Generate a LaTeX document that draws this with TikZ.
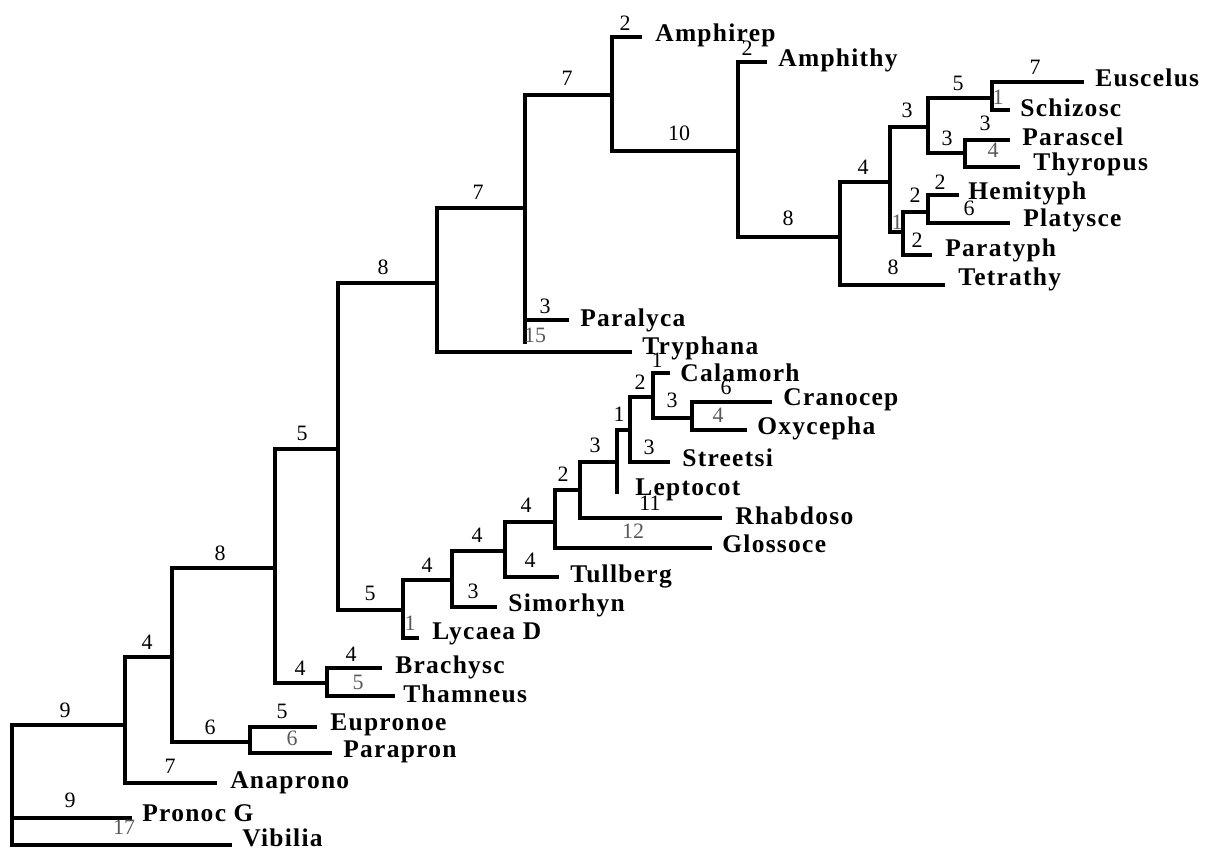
\documentclass[tikz,border=0pt]{standalone}
\usepackage{fontspec}
\setmainfont{Liberation Serif}
\newfontfamily\taxfont[LetterSpace=5]{Liberation Serif}
\begin{document}
\begin{tikzpicture}[x=0.02cm,y=-0.02cm,
  br/.style={line width=1.9pt,line cap=rect},
  tax/.style={anchor=west,inner sep=0pt,font=\taxfont\bfseries\fontsize{14.5}{16}\selectfont},
  lab/.style={inner sep=0pt,font=\fontsize{12.5}{14}\selectfont},
  glab/.style={lab,text=black!65}]
\useasboundingbox (0,0) rectangle (1209,850);
% internal nodes
\coordinate (n0) at (12,785);
\coordinate (n1) at (125,725);
\coordinate (n2) at (172,657);
\coordinate (n3) at (275,568);
\coordinate (n4) at (250,742);
\coordinate (n5) at (338,449);
\coordinate (n6) at (327,683);
\coordinate (n7) at (437,283);
\coordinate (n8) at (403,610);
\coordinate (n9) at (452,580);
\coordinate (n10) at (505,551);
\coordinate (n11) at (555,522);
\coordinate (n12) at (580,490);
\coordinate (n13) at (617,462);
\coordinate (n14) at (630,430);
\coordinate (n15) at (653,397);
\coordinate (n16) at (692,418);
\coordinate (n17) at (525,208);
\coordinate (n18) at (612,95);
\coordinate (n19) at (738,151);
\coordinate (n20) at (840,237);
\coordinate (n21) at (890,182);
\coordinate (n22) at (928,127);
\coordinate (n23) at (903,232);
\coordinate (n24) at (928,212);
\coordinate (n25) at (992,98);
\coordinate (n26) at (965,153);
\coordinate (q0) at (525,342);
% leaves
\coordinate (Pronoc) at (130,818);
\coordinate (Vibilia) at (230,845);
\coordinate (Anaprono) at (215,783);
\coordinate (Eupronoe) at (315,727);
\coordinate (Parapron) at (330,753);
\coordinate (Brachysc) at (380,668);
\coordinate (Thamneus) at (393,696);
\coordinate (Lycaea) at (417,638);
\coordinate (Simorhyn) at (495,607);
\coordinate (Tullberg) at (557,577);
\coordinate (Glossoce) at (710,548);
\coordinate (Rhabdoso) at (720,518);
\coordinate (Leptocot) at (617,492);
\coordinate (Streetsi) at (668,462);
\coordinate (Calamorh) at (668,373);
\coordinate (Cranocep) at (770,402);
\coordinate (Oxycepha) at (745,430);
\coordinate (Tryphana) at (630,352);
\coordinate (Paralyca) at (567,320);
\coordinate (Amphirep) at (640,37);
\coordinate (Amphithy) at (765,62);
\coordinate (Tetrathy) at (943,285);
\coordinate (Paratyph) at (930,255);
\coordinate (Hemityph) at (957,195);
\coordinate (Platysce) at (1008,223);
\coordinate (Euscelus) at (1082,82);
\coordinate (Schizosc) at (1008,110);
\coordinate (Parascel) at (1008,140);
\coordinate (Thyropus) at (1018,167);
% branches
\draw[br] (n0) |- (n1);
\draw[br] (n0) |- (Pronoc);
\draw[br] (n0) |- (Vibilia);
\draw[br] (n1) |- (n2);
\draw[br] (n1) |- (Anaprono);
\draw[br] (n2) |- (n3);
\draw[br] (n2) |- (n4);
\draw[br] (n4) |- (Eupronoe);
\draw[br] (n4) |- (Parapron);
\draw[br] (n3) |- (n5);
\draw[br] (n3) |- (n6);
\draw[br] (n6) |- (Brachysc);
\draw[br] (n6) |- (Thamneus);
\draw[br] (n5) |- (n7);
\draw[br] (n5) |- (n8);
\draw[br] (n8) |- (n9);
\draw[br] (n8) |- (Lycaea);
\draw[br] (n9) |- (n10);
\draw[br] (n9) |- (Simorhyn);
\draw[br] (n10) |- (n11);
\draw[br] (n10) |- (Tullberg);
\draw[br] (n11) |- (n12);
\draw[br] (n11) |- (Glossoce);
\draw[br] (n12) |- (n13);
\draw[br] (n12) |- (Rhabdoso);
\draw[br] (n13) |- (n14);
\draw[br] (n13) |- (Leptocot);
\draw[br] (n14) |- (n15);
\draw[br] (n14) |- (Streetsi);
\draw[br] (n15) |- (Calamorh);
\draw[br] (n15) |- (n16);
\draw[br] (n16) |- (Cranocep);
\draw[br] (n16) |- (Oxycepha);
\draw[br] (n7) |- (n17);
\draw[br] (n7) |- (Tryphana);
\draw[br] (n17) |- (n18);
\draw[br] (n17) |- (Paralyca);
\draw[br] (n17) |- (q0);
\draw[br] (n18) |- (Amphirep);
\draw[br] (n18) |- (n19);
\draw[br] (n19) |- (Amphithy);
\draw[br] (n19) |- (n20);
\draw[br] (n20) |- (n21);
\draw[br] (n20) |- (Tetrathy);
\draw[br] (n21) |- (n22);
\draw[br] (n21) |- (n23);
\draw[br] (n23) |- (n24);
\draw[br] (n23) |- (Paratyph);
\draw[br] (n24) |- (Hemityph);
\draw[br] (n24) |- (Platysce);
\draw[br] (n22) |- (n25);
\draw[br] (n22) |- (n26);
\draw[br] (n25) |- (Euscelus);
\draw[br] (n25) |- (Schizosc);
\draw[br] (n26) |- (Parascel);
\draw[br] (n26) |- (Thyropus);
% taxon names
\node[tax] (tEuscelus) at (1095,78) {Euscelus};
\node[tax] (tSchizosc) at (1020,108) {Schizosc};
\node[tax] (tParascel) at (1022,137) {Parascel};
\node[tax] (tThyropus) at (1033,164) {Thyropus};
\node[tax] (tHemityph) at (968,193) {Hemityph};
\node[tax] (tPlatysce) at (1023,220) {Platysce};
\node[tax] (tParatyph) at (945,250) {Paratyph};
\node[tax] (tTetrathy) at (958,279) {Tetrathy};
\node[tax] (tAmphithy) at (778,60) {Amphithy};
\node[tax] (tAmphirep) at (655,35) {Amphirep};
\node[tax] (tParalyca) at (580,320) {Paralyca};
\node[tax] (tTryphana) at (642,348) {Tryphana};
\node[tax] (tCalamorh) at (680,373) {Calamorh};
\node[tax] (tCranocep) at (783,400) {Cranocep};
\node[tax] (tOxycepha) at (757,428) {Oxycepha};
\node[tax] (tStreetsi) at (682,458) {Streetsi};
\node[tax] (tLeptocot) at (635,490) {Leptocot};
\node[tax] (tRhabdoso) at (735,516) {Rhabdoso};
\node[tax] (tGlossoce) at (722,544) {Glossoce};
\node[tax] (tTullberg) at (570,576) {Tullberg};
\node[tax] (tSimorhyn) at (508,605) {Simorhyn};
\node[tax] (tLycaea) at (432,634) {Lycaea D};
\node[tax] (tBrachysc) at (395,667) {Brachysc};
\node[tax] (tThamneus) at (403,694) {Thamneus};
\node[tax] (tEupronoe) at (330,725) {Eupronoe};
\node[tax] (tParapron) at (343,752) {Parapron};
\node[tax] (tAnaprono) at (230,783) {Anaprono};
\node[tax] (tPronoc) at (142,813) {Pronoc G};
\node[tax] (tVibilia) at (242,838) {Vibilia};
% branch lengths
\node[lab] (l1) at (65,710) {9};
\node[lab] (l2) at (70,800) {9};
\node[glab] (l3) at (124,827) {17};
\node[lab] (l4) at (147,642) {4};
\node[lab] (l5) at (170,766) {7};
\node[lab] (l6) at (220,553) {8};
\node[lab] (l7) at (210,727) {6};
\node[lab] (l8) at (282,711) {5};
\node[glab] (l9) at (292,738) {6};
\node[lab] (l10) at (302,433) {5};
\node[lab] (l11) at (300,668) {4};
\node[lab] (l12) at (351,654) {4};
\node[glab] (l13) at (358,682) {5};
\node[lab] (l14) at (383,267) {8};
\node[lab] (l15) at (370,593) {5};
\node[lab] (l16) at (427,565) {4};
\node[glab] (l17) at (410,623) {1};
\node[lab] (l18) at (477,535) {4};
\node[lab] (l19) at (473,591) {3};
\node[lab] (l20) at (526,505) {4};
\node[lab] (l21) at (530,560) {4};
\node[lab] (l22) at (563,474) {2};
\node[glab] (l23) at (633,531) {12};
\node[lab] (l24) at (595,445) {3};
\node[lab] (l25) at (650,503) {11};
\node[lab] (l26) at (619,414) {1};
\node[lab] (l27) at (640,382) {2};
\node[lab] (l28) at (649,447) {3};
\node[lab] (l29) at (657,360) {1};
\node[lab] (l30) at (672,400) {3};
\node[lab] (l31) at (726,387) {6};
\node[glab] (l32) at (718,415) {4};
\node[lab] (l33) at (478,192) {7};
\node[glab] (l34) at (535,335) {15};
\node[lab] (l35) at (545,306) {3};
\node[lab] (l36) at (567,78) {7};
\node[lab] (l37) at (625,23) {2};
\node[lab] (l38) at (679,133) {10};
\node[lab] (l39) at (747,48) {2};
\node[lab] (l40) at (788,218) {8};
\node[lab] (l41) at (863,167) {4};
\node[lab] (l42) at (893,267) {8};
\node[lab] (l43) at (907,110) {3};
\node[glab] (l44) at (897,222) {1};
\node[lab] (l45) at (915,195) {2};
\node[lab] (l46) at (917,240) {2};
\node[lab] (l47) at (940,182) {2};
\node[lab] (l48) at (969,208) {6};
\node[lab] (l49) at (958,83) {5};
\node[lab] (l50) at (947,138) {3};
\node[lab] (l51) at (1035,67) {7};
\node[glab] (l52) at (998,97) {1};
\node[lab] (l53) at (985,123) {3};
\node[glab] (l54) at (993,150) {4};
\end{tikzpicture}
\end{document}
